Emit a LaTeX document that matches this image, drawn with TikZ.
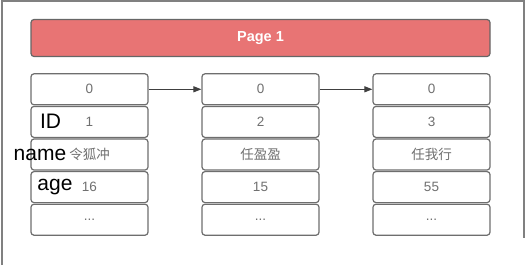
\documentclass[tikz,border=0pt]{standalone}
\usepackage{fontspec}
\setmainfont{Liberation Sans}
\newfontfamily\cjk{Noto Sans CJK SC}
\usetikzlibrary{arrows.meta}
\definecolor{pagered}{HTML}{E87474}
\definecolor{cellgray}{HTML}{6E6E6E}
\definecolor{textgray}{HTML}{707070}
\tikzset{
  cell/.style={draw=cellgray, line width=1.2pt, rounded corners=3pt, fill=white,
    minimum width=117pt, minimum height=31pt, inner sep=0pt,
    text=textgray, font=\fontsize{13.5}{13.5}\selectfont},
  rowlabel/.style={inner sep=0pt, font=\fontsize{21}{21}\selectfont},
  link/.style={draw=black!75, line width=1pt, -{Triangle[length=8pt,width=6pt]}}
}
\begin{document}
\begin{tikzpicture}[x=1pt,y=-1pt]
\useasboundingbox (0,0) rectangle (529,269);
% outer frame (cut off at the bottom)
\draw[gray, line width=1.5pt] (2,265) -- (2,1) -- (524,1) -- (524,238);
% page header
\node[draw=black!60, line width=1.2pt, rounded corners=3pt, fill=pagered,
  minimum width=459pt, minimum height=37pt, inner sep=0pt, text=white,
  font=\fontsize{14.5}{14.5}\selectfont\bfseries] (page) at (260.5,38) {Page 1};
% first record
\node[cell] (a0) at (89.5,89.3) {0};
\node[cell] (a1) at (89.5,121.9) {1};
\node[cell] (a2) at (89.5,154.5) {\cjk 令狐冲};
\node[cell] (a3) at (89.5,187.1) {16};
\node[cell] (a4) at (89.5,219.7) {...};
% second record
\node[cell] (b0) at (260.5,89.3) {0};
\node[cell] (b1) at (260.5,121.9) {2};
\node[cell] (b2) at (260.5,154.5) {\cjk 任盈盈};
\node[cell] (b3) at (260.5,187.1) {15};
\node[cell] (b4) at (260.5,219.7) {...};
% third record
\node[cell] (c0) at (431.5,89.3) {0};
\node[cell] (c1) at (431.5,121.9) {3};
\node[cell] (c2) at (431.5,154.5) {\cjk 任我行};
\node[cell] (c3) at (431.5,187.1) {55};
\node[cell] (c4) at (431.5,219.7) {...};
% links between records
\draw[link] (a0.east) -- (b0.west);
\draw[link] (b0.east) -- (c0.west);
% column names
\node[rowlabel] (lid) at (50.5,121.5) {ID};
\node[rowlabel] (lname) at (40,154.5) {name};
\node[rowlabel] (lage) at (55,187) {age};
\end{tikzpicture}
\end{document}
